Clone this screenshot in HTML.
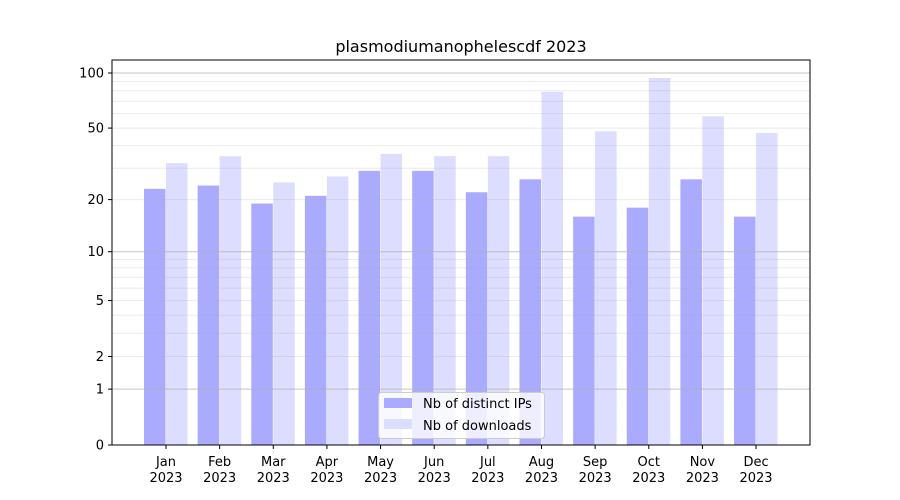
<!DOCTYPE html>
<html><head><meta charset="utf-8"><style>
body{margin:0;background:#fff;}
svg{display:block;font-family:"DejaVu Sans","Liberation Sans",sans-serif;}
</style></head><body>
<svg id="chart" width="900" height="500">
<rect x="0" y="0" width="900" height="500" fill="#fff"/>
<g id="bars"></g><g id="grid"></g><g id="axes"></g>
</svg>
<script>
const months=["Jan","Feb","Mar","Apr","May","Jun","Jul","Aug","Sep","Oct","Nov","Dec"];
const ips=[23,24,19,21,29,29,22,26,16,18,26,16];
const downloads=[32,35,25,27,36,35,35,79,48,94,58,47];
const majorTicks=[0,1,2,5,10,20,50,100];
const NS="http://www.w3.org/2000/svg";
const L=112,R=810,T=60,B=445,K=185.6;
function y(v){return B-Math.log10(1+v)*K;}
function xc(i){return 166+i*53.64;}
function mk(p,tag,a,txt){const e=document.createElementNS(NS,tag);for(const k in a)e.setAttribute(k,a[k]);if(txt!==undefined)e.textContent=txt;p.appendChild(e);return e;}
const grid=document.getElementById('grid'),bars=document.getElementById('bars'),axes=document.getElementById('axes');
const minors=[2,3,4,5,6,7,8,9,20,30,40,50,60,70,80,90];
minors.forEach(v=>{const l=mk(grid,'line',{x1:L,x2:R,y1:y(v),y2:y(v),stroke:'#b0b0b0','stroke-opacity':0.25,'stroke-width':1});

});
[0,1,10,100].forEach(v=>{const l=mk(grid,'line',{x1:L,x2:R,y1:y(v),y2:y(v),stroke:'#b0b0b0','stroke-opacity':0.75,'stroke-width':1});

});
months.forEach((m,i)=>{
 const c=xc(i);
 const b1=mk(bars,'rect',{x:c-22,y:y(ips[i]),width:21.5,height:B-y(ips[i]),fill:'#aaaaff'});
 
 
 const b2=mk(bars,'rect',{x:c,y:y(downloads[i]),width:21.5,height:B-y(downloads[i]),fill:'#ddddff'});
 
 
 mk(axes,'line',{x1:c,x2:c,y1:B,y2:B+4,stroke:'#000'});
 const t=mk(axes,'text',{x:c,y:B+21,'font-size':13,'text-anchor':'middle'},m);
 
 
 const t2=mk(axes,'text',{x:c,y:B+37,'font-size':13,'text-anchor':'middle'},'2023');
 
 
});
majorTicks.forEach(v=>{
 mk(axes,'line',{x1:L-4,x2:L,y1:y(v),y2:y(v),stroke:'#000'});
 const t=mk(axes,'text',{x:L-8,y:y(v)+4.5,'font-size':13,'text-anchor':'end'},String(v));
 
 
});
const fr=mk(axes,'rect',{x:L,y:T,width:R-L,height:B-T,fill:'none',stroke:'#000','stroke-width':1});


const ti=mk(axes,'text',{x:461,y:52,'font-size':16,'text-anchor':'middle'},'plasmodiumanophelescdf 2023');


const lg=mk(axes,'g',{});


mk(lg,'rect',{x:378.5,y:392.5,width:166,height:46,rx:3,fill:'#fff','fill-opacity':0.8,stroke:'#cccccc'});
mk(lg,'rect',{x:384,y:398,width:28,height:10,fill:'#aaaaff'});
const e1=mk(lg,'text',{x:423,y:408,'font-size':13},'Nb of distinct IPs');


mk(lg,'rect',{x:384,y:419,width:28,height:10,fill:'#ddddff'});
const e2=mk(lg,'text',{x:423,y:430,'font-size':13},'Nb of downloads');


</script>
</body></html>
